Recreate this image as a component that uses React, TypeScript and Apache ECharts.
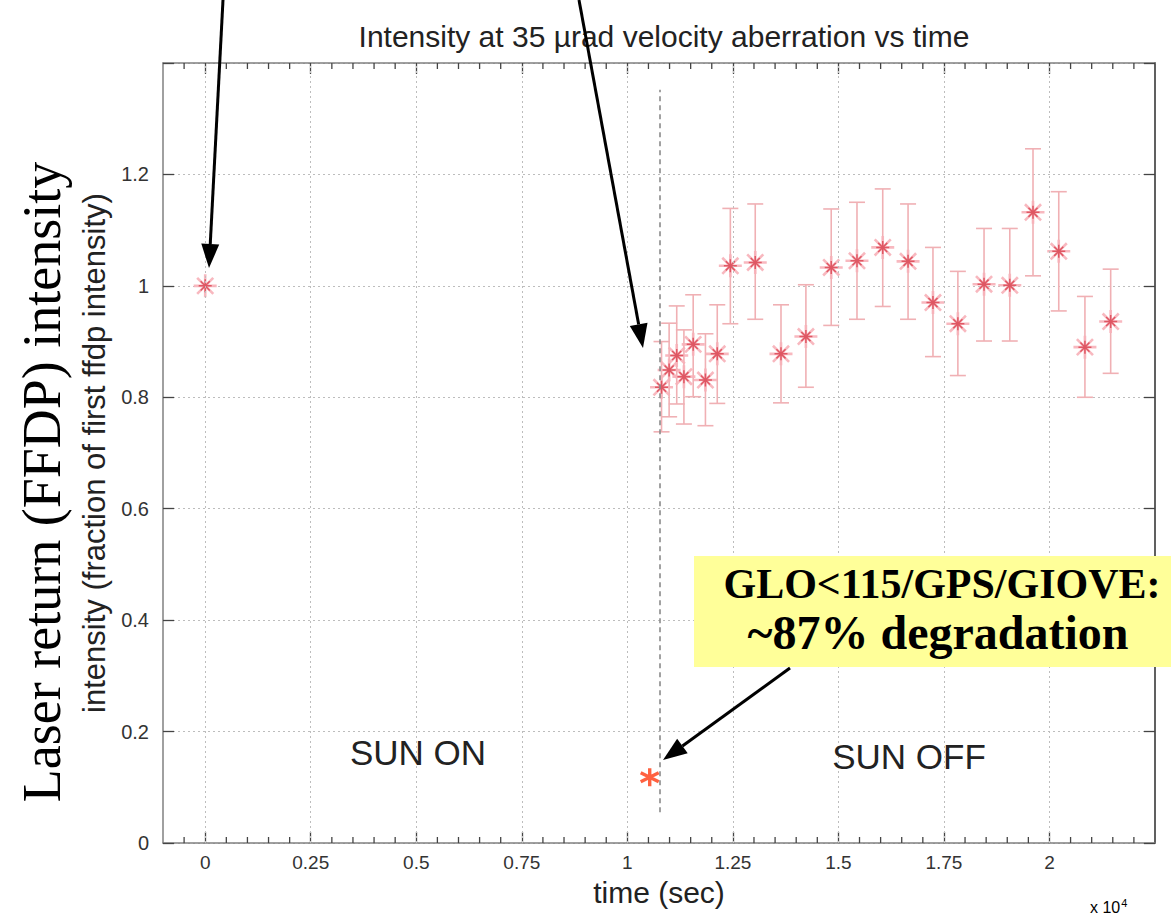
import React, { useEffect, useRef } from "react";
import * as echarts from "echarts";

// time in units of 10^4 s
const times = [0, 1.081, 1.099, 1.117, 1.134, 1.156, 1.185, 1.213, 1.244, 1.303, 1.364, 1.423, 1.483, 1.544, 1.605, 1.665, 1.724, 1.783, 1.845, 1.906, 1.961, 2.022, 2.084, 2.145];
const intensity = [1.0, 0.818, 0.849, 0.875, 0.837, 0.895, 0.831, 0.878, 1.036, 1.042, 0.878, 0.909, 1.033, 1.045, 1.069, 1.044, 0.970, 0.932, 1.003, 1.001, 1.132, 1.062, 0.890, 0.936];
const errLow = [1.0, 0.738, 0.765, 0.788, 0.752, 0.801, 0.749, 0.789, 0.932, 0.940, 0.790, 0.818, 0.929, 0.940, 0.963, 0.940, 0.873, 0.839, 0.901, 0.901, 1.018, 0.955, 0.800, 0.843];
const errHigh = [1.0, 0.900, 0.933, 0.964, 0.921, 0.984, 0.914, 0.966, 1.139, 1.147, 0.966, 1.002, 1.138, 1.150, 1.174, 1.147, 1.069, 1.026, 1.103, 1.103, 1.246, 1.169, 0.981, 1.030];

const degradedPoint = [1.053, 0.118];
const sunBoundary = 1.077;
const sunBoundarySpan = [0.055, 1.352];

const xTicks = [0, 0.25, 0.5, 0.75, 1, 1.25, 1.5, 1.75, 2];
const xTickLabels = ["0", "0.25", "0.5", "0.75", "1", "1.25", "1.5", "1.75", "2"];
const yTickLabels = ["0", "0.2", "0.4", "0.6", "0.8", "1", "1.2"];
const xMinorTicks = [-0.05, 0.05, 0.1, 0.15, 0.2, 0.3, 0.35, 0.4, 0.45, 0.55, 0.6, 0.65, 0.7, 0.8, 0.85, 0.9, 0.95, 1.05, 1.1, 1.15, 1.2, 1.3, 1.35, 1.4, 1.45, 1.55, 1.6, 1.65, 1.7, 1.8, 1.85, 1.9, 1.95, 2.05, 2.1, 2.15, 2.2];
const yRange = [0, 1.4];

const SANS = "Liberation Sans, Arial, Helvetica, sans-serif";
const SERIF = "Liberation Serif, Times New Roman, serif";
const STAR = "path://M0,-10L0,10M-10,0L10,0M-7,-7L7,7M-7,7L7,-7";
const ASTER = "path://M0,-10L0,10M-8.66,-5L8.66,5M-8.66,5L8.66,-5";

function arrow(x1: number, y1: number, x2: number, y2: number) {
  const dx = x2 - x1, dy = y2 - y1;
  const len = Math.sqrt(dx * dx + dy * dy);
  const ux = dx / len, uy = dy / len;
  const hl = 24, hw = 9;
  const bx = x2 - ux * hl, by = y2 - uy * hl;
  const px = -uy, py = ux;
  return [
    { type: "line", z: 100, shape: { x1, y1, x2: bx, y2: by }, style: { stroke: "#000", lineWidth: 3 } },
    {
      type: "polygon", z: 100,
      shape: { points: [[x2, y2], [bx + px * hw, by + py * hw], [bx - px * hw, by - py * hw]] },
      style: { fill: "#000" },
    },
  ];
}

export default function App() {
  const ref = useRef<HTMLDivElement>(null);
  useEffect(() => {
    if (!ref.current) return;
    const chart = echarts.init(ref.current, null, { renderer: "svg" });
    const pts = times.map((t, i) => [t, intensity[i]]);
    const bars = times.map((t, i) => [t, errLow[i], errHigh[i]]);
    const axisLineStyle = { color: "#808080", width: 1.5 };
    const tickStyle = { color: "#444", width: 1.3 };
    const option: any = {
      animation: false,
      backgroundColor: "#ffffff",
      title: {
        text: "Intensity at 35 \u00b5rad velocity aberration vs time",
        left: 659,
        textAlign: "center",
        top: 16,
        textStyle: { fontFamily: SANS, fontSize: 30, fontWeight: "normal", color: "#222" },
      },
      grid: { left: 163, right: 16, top: 63, bottom: 79, containLabel: false },
      xAxis: [
        {
          type: "value", min: -0.1, max: 2.25, position: "bottom",
          name: "time (sec)", nameLocation: "middle", nameGap: 34,
          nameTextStyle: { fontFamily: SANS, fontSize: 30, color: "#222" },
          axisLine: { show: true, onZero: false, lineStyle: axisLineStyle },
          axisTick: { show: true, inside: true, length: 11, customValues: xTicks, lineStyle: tickStyle },
          axisLabel: {
            customValues: xTicks, margin: 10, fontFamily: SANS, fontSize: 19, color: "#333",
            formatter: (v: number) => { const i = xTicks.findIndex((t) => Math.abs(t - v) < 1e-6); return i >= 0 ? xTickLabels[i] : ""; },
          },
          splitLine: { show: false },
        },
        {
          type: "value", min: -0.1, max: 2.25, position: "top",
          axisLine: { show: true, onZero: false, lineStyle: axisLineStyle },
          axisTick: { show: true, inside: true, length: 11, customValues: xTicks, lineStyle: tickStyle },
          axisLabel: { show: false },
          splitLine: { show: false },
        },
      ],
      yAxis: [
        {
          type: "value", min: 0, max: 1.4, interval: 0.2, position: "left",
          name: "intensity (fraction of first ffdp intensity)", nameLocation: "middle", nameGap: 46,
          nameTextStyle: { fontFamily: SANS, fontSize: 31, color: "#222" },
          axisLine: { show: true, onZero: false, lineStyle: axisLineStyle },
          axisTick: { show: true, inside: true, length: 11, lineStyle: tickStyle },
          axisLabel: {
            margin: 14, fontFamily: SANS, fontSize: 20, color: "#333",
            formatter: (v: number) => { const i = Math.round(v / 0.2); return i < yTickLabels.length ? yTickLabels[i] : ""; },
          },
          splitLine: { show: true, lineStyle: { color: "#bdbdbd", width: 1, type: [2, 3] } },
        },
        {
          type: "value", min: 0, max: 1.4, interval: 0.2, position: "right",
          axisLine: { show: true, onZero: false, lineStyle: { color: "#606060", width: 2 } },
          axisTick: { show: true, inside: true, length: 11, lineStyle: tickStyle },
          axisLabel: { show: false },
          splitLine: { show: false },
        },
      ],
      series: [
        {
          type: "line", data: [], xAxisIndex: 0, yAxisIndex: 0, silent: true,
          markLine: {
            silent: true, symbol: ["none", "none"], label: { show: false },
            lineStyle: { color: "#bdbdbd", width: 1, type: [2, 3] },
            data: xTicks.map((v) => ({ xAxis: v })),
          },
        },
        {
          // minor ticks on bottom and top of the box
          type: "custom", xAxisIndex: 0, yAxisIndex: 0, silent: true, clip: false, z: 5,
          data: xMinorTicks.map((v) => [v, yRange[0], yRange[1]]), encode: { x: 0, y: [1, 2] },
          renderItem: (params: any, api: any) => {
            const x = api.value(0);
            const b = api.coord([x, api.value(1)]);
            const t = api.coord([x, api.value(2)]);
            const style = { stroke: "#444", lineWidth: 1.3 };
            return {
              type: "group",
              children: [
                { type: "line", shape: { x1: b[0], y1: b[1], x2: b[0], y2: b[1] - 6 }, style },
                { type: "line", shape: { x1: t[0], y1: t[1], x2: t[0], y2: t[1] + 6 }, style },
              ],
            };
          },
        },
        {
          type: "custom", xAxisIndex: 0, yAxisIndex: 0, data: bars, encode: { x: 0, y: [1, 2] },
          renderItem: (params: any, api: any) => {
            const x = api.value(0), lo = api.value(1), hi = api.value(2);
            if (Math.abs(hi - lo) < 1e-6) return null;
            const a = api.coord([x, lo]);
            const b = api.coord([x, hi]);
            const w = 8;
            const style = { stroke: "#f0b0b4", lineWidth: 1.6, fill: "none" };
            return {
              type: "group",
              children: [
                { type: "line", shape: { x1: a[0], y1: a[1], x2: b[0], y2: b[1] }, style },
                { type: "line", shape: { x1: a[0] - w, y1: a[1], x2: a[0] + w, y2: a[1] }, style },
                { type: "line", shape: { x1: b[0] - w, y1: b[1], x2: b[0] + w, y2: b[1] }, style },
              ],
            };
          },
          markLine: {
            silent: true, symbol: ["none", "none"], label: { show: false },
            lineStyle: { color: "#8a8a8a", width: 1.6, type: [5, 4] },
            data: [[{ coord: [sunBoundary, sunBoundarySpan[0]] }, { coord: [sunBoundary, sunBoundarySpan[1]] }]],
          },
        },
        {
          type: "scatter", xAxisIndex: 0, yAxisIndex: 0, data: pts, symbol: STAR, symbolSize: 23,
          itemStyle: { color: "none", borderColor: "#f7b0b8", borderWidth: 2.6, opacity: 0.9 },
        },
        {
          type: "scatter", xAxisIndex: 0, yAxisIndex: 0, data: pts, symbol: STAR, symbolSize: 13,
          itemStyle: { color: "none", borderColor: "#d8404e", borderWidth: 1.5 },
        },
        {
          type: "scatter", xAxisIndex: 0, yAxisIndex: 0, data: [degradedPoint], symbol: ASTER, symbolSize: 18,
          itemStyle: { color: "none", borderColor: "#ff3a10", borderWidth: 3.4 },
        },
      ],
      graphic: [
        {
          type: "text", z: 100, x: 42, y: 482, rotation: Math.PI / 2,
          style: { text: "Laser return (FFDP) intensity", font: `54px ${SERIF}`, fill: "#000", textAlign: "center", textVerticalAlign: "middle" },
        },
        {
          type: "text", z: 100, x: 418, y: 752,
          style: { text: "SUN ON", font: `35px ${SANS}`, fill: "#222", textAlign: "center", textVerticalAlign: "middle" },
        },
        {
          type: "text", z: 100, x: 909, y: 756,
          style: { text: "SUN OFF", font: `35px ${SANS}`, fill: "#222", textAlign: "center", textVerticalAlign: "middle" },
        },
        {
          type: "text", z: 100, x: 1090, y: 897,
          style: {
            text: "{a|x 10}{b|4}",
            rich: { a: { fontFamily: SANS, fontSize: 16, color: "#333" }, b: { fontFamily: SANS, fontSize: 11, color: "#333", verticalAlign: "top", padding: [0, 0, 10, 1] } },
          },
        },
        { type: "rect", z: 100, shape: { x: 694, y: 556, width: 477, height: 111 }, style: { fill: "#ffff99" } },
        {
          type: "text", z: 101, x: 942, y: 584,
          style: { text: "GLO<115/GPS/GIOVE:", font: `bold 42px ${SERIF}`, fill: "#000", textAlign: "center", textVerticalAlign: "middle" },
        },
        {
          type: "text", z: 101, x: 938, y: 632,
          style: { text: "~87% degradation", font: `bold 48px ${SERIF}`, fill: "#000", textAlign: "center", textVerticalAlign: "middle" },
        },
        ...arrow(223, 0, 209, 268),
        ...arrow(579, 0, 643, 348),
        ...arrow(790, 668, 663, 760),
      ],
    };
    chart.setOption(option);
    return () => chart.dispose();
  }, []);
  return <div ref={ref} style={{ position: "absolute", left: 0, top: 0, width: 1171, height: 922 }} />;
}
